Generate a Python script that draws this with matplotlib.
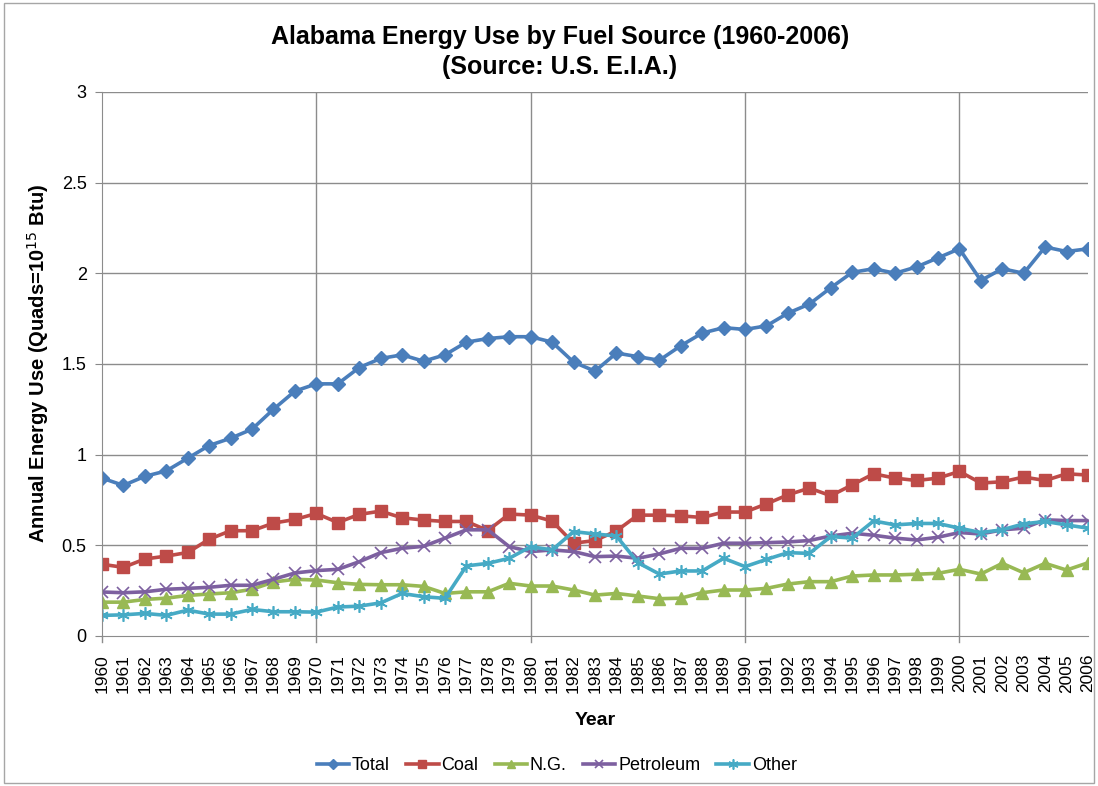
import matplotlib
matplotlib.use("Agg")
import matplotlib.pyplot as plt
from matplotlib.patches import Rectangle

plt.rcParams['font.family'] = ['Liberation Sans', 'DejaVu Sans']

years = list(range(1960, 2007))

total = [0.87, 0.83, 0.88, 0.91, 0.98, 1.05, 1.09, 1.14, 1.25, 1.35,
         1.39, 1.39, 1.48, 1.53, 1.55, 1.515, 1.55, 1.62, 1.64, 1.65,
         1.65, 1.62, 1.51, 1.46, 1.56, 1.54, 1.52, 1.60, 1.67, 1.70,
         1.69, 1.71, 1.78, 1.83, 1.92, 2.005, 2.025, 2.00, 2.035, 2.085,
         2.135, 1.96, 2.025, 2.00, 2.145, 2.12, 2.135]
coal = [0.395, 0.378, 0.424, 0.44, 0.46, 0.533, 0.58, 0.58, 0.622, 0.642,
        0.675, 0.625, 0.67, 0.688, 0.651, 0.639, 0.631, 0.631, 0.581, 0.672,
        0.666, 0.633, 0.511, 0.526, 0.579, 0.666, 0.666, 0.662, 0.653, 0.683,
        0.683, 0.728, 0.778, 0.815, 0.773, 0.833, 0.894, 0.87, 0.857, 0.87,
        0.907, 0.843, 0.85, 0.876, 0.857, 0.894, 0.887]
ng = [0.186, 0.186, 0.201, 0.208, 0.223, 0.231, 0.238, 0.257, 0.297, 0.312,
      0.308, 0.293, 0.284, 0.282, 0.282, 0.273, 0.234, 0.243, 0.243, 0.29,
      0.275, 0.275, 0.253, 0.225, 0.234, 0.22, 0.205, 0.208, 0.238, 0.253,
      0.253, 0.262, 0.286, 0.299, 0.299, 0.33, 0.336, 0.336, 0.34, 0.345,
      0.367, 0.341, 0.4, 0.348, 0.4, 0.363, 0.403]
petroleum = [0.242, 0.238, 0.243, 0.257, 0.262, 0.268, 0.279, 0.279, 0.312, 0.347,
             0.36, 0.367, 0.409, 0.459, 0.483, 0.494, 0.539, 0.585, 0.585, 0.492,
             0.465, 0.474, 0.465, 0.437, 0.44, 0.428, 0.452, 0.483, 0.483, 0.511,
             0.511, 0.514, 0.518, 0.526, 0.551, 0.566, 0.555, 0.539, 0.529, 0.544,
             0.57, 0.562, 0.585, 0.594, 0.64, 0.636, 0.636]
other = [0.113, 0.116, 0.124, 0.113, 0.142, 0.12, 0.12, 0.146, 0.133, 0.133,
         0.131, 0.159, 0.164, 0.182, 0.234, 0.216, 0.207, 0.386, 0.4, 0.428,
         0.492, 0.474, 0.575, 0.562, 0.551, 0.404, 0.341, 0.358, 0.358, 0.428,
         0.382, 0.422, 0.459, 0.455, 0.548, 0.539, 0.634, 0.612, 0.62, 0.62,
         0.594, 0.57, 0.585, 0.618, 0.631, 0.612, 0.594]

fig = plt.figure(figsize=(10.98, 7.86), dpi=100)
ax = fig.add_axes([0.0929, 0.191, 0.898, 0.692])

# chart area border like Excel
fig.patches.append(Rectangle((0.004, 0.004), 0.992, 0.992, transform=fig.transFigure,
                             fill=False, edgecolor='#a6a6a6', linewidth=1))

lw = 2.6
ax.plot(years, total, color='#4a7ebb', lw=lw, marker='D', ms=7, label='Total')
ax.plot(years, coal, color='#be4b48', lw=lw, marker='s', ms=8, label='Coal')
ax.plot(years, ng, color='#98b954', lw=lw, marker='^', ms=8, label='N.G.')
ax.plot(years, petroleum, color='#7d60a0', lw=lw, marker='x', ms=8, mew=1.2,
        label='Petroleum')
ax.plot(years, other, color='#46aac5', lw=lw, marker=(6, 2, 0), ms=9, mew=1.2,
        label='Other')

ax.set_xlim(1960, 2006)
ax.set_ylim(0, 3)
ax.set_yticks([0, 0.5, 1, 1.5, 2, 2.5, 3])
ax.set_yticklabels(['0', '0.5', '1', '1.5', '2', '2.5', '3'])
ax.set_xticks(years)
ax.set_xticklabels([str(y) for y in years], rotation=90)
ax.tick_params(axis='x', length=0, labelsize=12.5, pad=13)
ax.tick_params(axis='y', length=5, color='#888888', labelsize=13, pad=6)

for y in [0.5, 1, 1.5, 2, 2.5, 3]:
    ax.axhline(y, color='#8c8c8c', lw=1, zorder=0)
for x in [1970, 1980, 1990, 2000]:
    ax.axvline(x, color='#8c8c8c', lw=1, zorder=0)
    ax.plot([x, x], [0, -0.035], color='#8c8c8c', lw=1, clip_on=False)
ax.plot([1960, 1960], [0, -0.035], color='#8c8c8c', lw=1, clip_on=False)

for s in ['top', 'right']:
    ax.spines[s].set_visible(False)
ax.spines['left'].set_color('#8c8c8c')
ax.spines['bottom'].set_color('#8c8c8c')

ax.set_xlabel('Year', fontsize=14, fontweight='bold', labelpad=14)
ax.set_ylabel('Annual Energy Use (Quads=10$^{15}$ Btu)', fontsize=14.5,
              fontweight='bold', labelpad=8)
fig.text(0.51, 0.968, 'Alabama Energy Use by Fuel Source (1960-2006)\n(Source: U.S. E.I.A.)',
         fontsize=18, fontweight='bold', ha='center', va='top', linespacing=1.3)

fig.legend(loc='lower center', bbox_to_anchor=(0.507, -0.006), ncol=5, frameon=False,
           fontsize=13, handlelength=1.8, columnspacing=0.9, handletextpad=0.15,
           markerscale=0.8)

fig.savefig('out.png', dpi=100)
